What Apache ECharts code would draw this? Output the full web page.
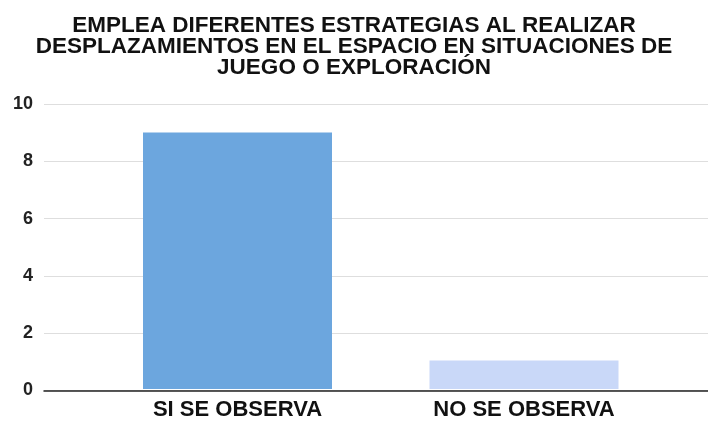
<!DOCTYPE html>
<html>
<head>
<meta charset="utf-8">
<title>Desplazamientos en el espacio</title>
<script src="https://cdn.jsdelivr.net/npm/echarts@6/dist/echarts.min.js"></script>
<style>
  html, body { margin: 0; padding: 0; background: #ffffff; }
  #chart { width: 708px; height: 421px; }
</style>
</head>
<body>
<div id="chart"></div>
<script>
// Chart data
const titleText = 'EMPLEA DIFERENTES ESTRATEGIAS AL REALIZAR\nDESPLAZAMIENTOS EN EL ESPACIO EN SITUACIONES DE\nJUEGO O EXPLORACIÓN';
const categories = ['SI SE OBSERVA', 'NO SE OBSERVA'];
const values = [9, 1];
const yMin = 0;
const yMax = 10;
const yInterval = 2;

// Per-bar fill colours
const barColors = ['#6ca6de', '#c9d8f8'];

const FONT = '"Liberation Sans", Arial, sans-serif';

const chart = echarts.init(document.getElementById('chart'), null, { renderer: 'canvas' });

chart.setOption({
  backgroundColor: '#ffffff',
  animation: false,
  title: {
    text: titleText,
    left: 'center',
    top: 10,
    textStyle: {
      fontFamily: FONT,
      fontSize: 22.5,
      fontWeight: 'bold',
      color: '#111111',
      lineHeight: 21
    }
  },
  grid: [
    // full-width grid: value labels, gridlines, baseline
    { left: 44, right: 0, top: 104, bottom: 30.5, containLabel: false },
    // inner grid holding the bars and category labels
    { left: 94.25, right: 40.75, top: 104, bottom: 30.5, containLabel: false }
  ],
  xAxis: [
    {
      gridIndex: 0,
      type: 'category',
      data: categories,
      axisLine: { show: true, lineStyle: { color: '#222222', width: 1.5 } },
      axisTick: { show: false },
      axisLabel: { show: false },
      splitLine: { show: false }
    },
    {
      gridIndex: 1,
      type: 'category',
      data: categories,
      axisLine: { show: false },
      axisTick: { show: false },
      axisLabel: {
        show: true,
        margin: 10,
        fontFamily: FONT,
        fontSize: 22,
        fontWeight: 'bold',
        color: '#111111'
      }
    }
  ],
  yAxis: [
    {
      gridIndex: 0,
      type: 'value',
      min: yMin,
      max: yMax,
      interval: yInterval,
      axisLine: { show: false },
      axisTick: { show: false },
      axisLabel: {
        margin: 11,
        fontFamily: FONT,
        fontSize: 18,
        fontWeight: 'bold',
        color: '#222222'
      },
      splitLine: { show: true, lineStyle: { color: '#dedede', width: 1 } }
    },
    {
      gridIndex: 1,
      type: 'value',
      min: yMin,
      max: yMax,
      interval: yInterval,
      axisLine: { show: false },
      axisTick: { show: false },
      axisLabel: { show: false },
      splitLine: { show: false }
    }
  ],
  series: [
    {
      type: 'bar',
      xAxisIndex: 1,
      yAxisIndex: 1,
      barWidth: 189,
      data: values.map((v, i) => ({ value: v, itemStyle: { color: barColors[i] } })),
      z: 3
    }
  ]
});
</script>
</body>
</html>
